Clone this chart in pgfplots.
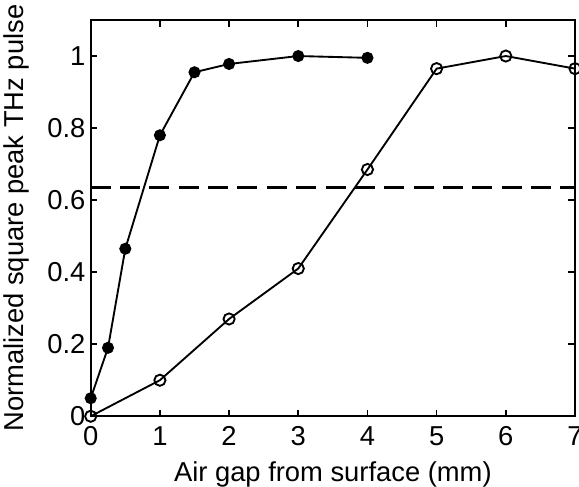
\documentclass[border=0pt]{standalone}
\usepackage{pgfplots}
\pgfplotsset{compat=1.18}
\usepackage{fontspec}
\setmainfont{Liberation Sans}

\begin{document}
\begin{tikzpicture}
\begin{axis}[
  width=363pt, height=297pt, scale only axis,
  xmin=0, xmax=7, ymin=0, ymax=1.1,
  xtick={0,1,...,7}, ytick={0,0.2,0.4,0.6,0.8,1},
  yticklabels={0,0.2,0.4,0.6,0.8,1},
  tick align=inside, tick pos=both,
  major tick length=5pt,
  axis line style={line width=1.5pt},
  tick style={line width=1.2pt, black},
  tick label style={font=\fontsize{20.5}{23}\selectfont},
  label style={font=\fontsize{20.5}{23}\selectfont},
  /pgf/number format/assume math mode=true,
  xticklabel style={yshift=-4pt},
  yticklabel style={xshift=-0.5pt},
  xlabel={Air gap from surface (mm)},
  ylabel={Normalized square peak THz pulse},
  xlabel style={yshift=-5pt},
  ylabel style={yshift=6.5pt},
  clip=false,
]
\addplot[black, line width=1.6pt, dashed, dash pattern=on 15pt off 7pt] coordinates {(0,0.635)(7,0.635)};
\addplot[black, line width=1.4pt, mark=*, mark size=3.8pt, mark options={solid, fill=black}] coordinates {
  (0,0.05)(0.25,0.19)(0.5,0.465)(1,0.78)(1.5,0.955)(2,0.978)(3,1.0)(4,0.995)};
\addplot[black, line width=1.4pt, mark=o, mark size=4.2pt, mark options={solid, line width=1.4pt, fill=white}] coordinates {
  (0,0)(1,0.1)(2,0.27)(3,0.41)(4,0.685)(5,0.965)(6,1.0)(7,0.965)};
\coordinate (ll) at (rel axis cs:0,0);
\coordinate (ur) at (rel axis cs:1,1);
\end{axis}
\pgfresetboundingbox
\path ([shift={(-68pt,-53pt)}]ll) rectangle ([shift={(3pt,15pt)}]ur);
\end{tikzpicture}
\end{document}
